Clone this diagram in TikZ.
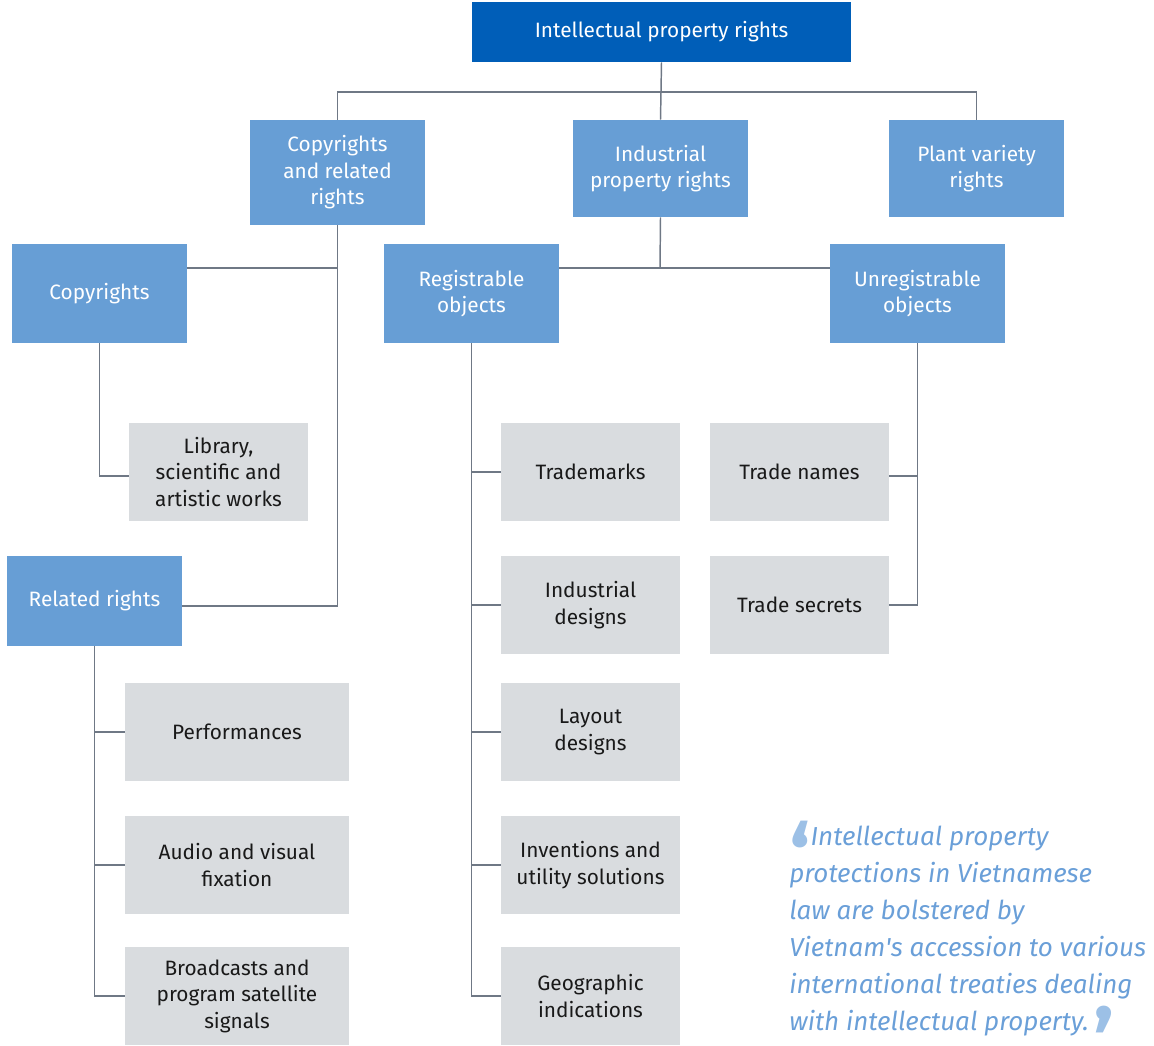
\documentclass[tikz,border=0pt]{standalone}
\usepackage{fontspec}
\setmainfont{Fira Sans}
\definecolor{darkblue}{HTML}{005EB8}
\definecolor{midblue}{HTML}{679ED5}
\definecolor{boxgray}{HTML}{D9DCDF}
\definecolor{linegray}{HTML}{6F7885}
\definecolor{quoteblue}{HTML}{6A9FD8}
\definecolor{markblue}{HTML}{9CC0E6}
\newcommand{\qmark}[1]{\smash{\textcolor{markblue}{\fontsize{66}{27.75}\selectfont\bfseries\upshape\raisebox{-0.49em}{#1}}}}
\begin{document}
\begin{tikzpicture}[
        x=0.75pt, y=-0.75pt,
        box/.style={rectangle, inner sep=2pt, align=center, font=\fontsize{15.6}{19.9}\selectfont},
        main/.style={box, fill=darkblue, text=white, minimum width=379*0.75pt, minimum height=60*0.75pt},
        cat/.style={box, fill=midblue, text=white, minimum width=175*0.75pt, minimum height=98*0.75pt},
        item/.style={box, fill=boxgray, text=black!90, minimum width=179*0.75pt, minimum height=98*0.75pt},
        wide/.style={item, minimum width=224*0.75pt},
        link/.style={draw=linegray, line width=1.1pt}
    ]
        \useasboundingbox (0,0) rectangle (1154,1046);

        % Top level
        \node[main] (ipr) at (661.5,32) {Intellectual property rights};

        % Second level
        \node[cat, minimum height=105*0.75pt] (copy) at (337.5,172.5) {Copyrights\\and related\\rights};
        \node[cat, minimum height=97*0.75pt] (indus) at (660.5,168.5) {Industrial\\property rights};
        \node[cat, minimum height=97*0.75pt] (plant) at (976.5,168.5) {Plant variety\\rights};

        % Third level
        \node[cat, minimum height=99*0.75pt] (copyr) at (99.5,293.5) {Copyrights};
        \node[cat, minimum height=99*0.75pt] (regis) at (471.5,293.5) {Registrable\\objects};
        \node[cat, minimum height=99*0.75pt] (unreg) at (917.5,293.5) {Unregistrable\\objects};
        \node[cat, minimum height=90*0.75pt] (related) at (94.5,601) {Related rights};

        % Copyrights and related rights
        \node[item] (library) at (218.5,472) {Library,\\scientific and\\artistic works};
        \node[wide] (perform) at (237,732) {Performances};
        \node[wide] (fixation) at (237,865) {Audio and visual\\fixation};
        \node[wide] (broadcast) at (237,996) {Broadcasts and\\program satellite\\signals};

        % Registrable objects
        \node[item] (trademark) at (590.5,472) {Trademarks};
        \node[item] (design) at (590.5,605) {Industrial\\designs};
        \node[item] (layout) at (590.5,732) {Layout\\designs};
        \node[item] (invent) at (590.5,865) {Inventions and\\utility solutions};
        \node[item] (geo) at (590.5,996) {Geographic\\indications};

        % Unregistrable objects
        \node[item] (tradename) at (799.5,472) {Trade names};
        \node[item] (secret) at (799.5,605) {Trade secrets};

        % Connessioni
        \coordinate (bus) at (661,92);
        \coordinate (cbus) at (337,268);
        \coordinate (ibus) at (660,268);
        \coordinate (ntick) at ([yshift=-4*0.75pt]tradename.east);
        \draw[link] (ipr.south) -- (bus);
        \draw[link] (copy.north) |- (bus) -| (plant.north);
        \draw[link] (bus) -- (indus.north);

        \draw[link] (copy.south) |- ([yshift=-5*0.75pt]related.east);
        \draw[link] (copyr.east |- cbus) -- (cbus);
        \draw[link] (indus.south) -- (ibus);
        \draw[link] (regis.east |- ibus) -- (unreg.west |- ibus);

        \draw[link] (copyr.south) |- ([yshift=-4*0.75pt]library.west);
        \draw[link] (related.south) |- (broadcast.west);
        \draw[link] (related.south |- perform.west) -- (perform.west);
        \draw[link] (related.south |- fixation.west) -- (fixation.west);

        \draw[link] (regis.south) |- (geo.west);
        \draw[link] (regis.south |- trademark.west) -- (trademark.west);
        \draw[link] (regis.south |- design.west) -- (design.west);
        \draw[link] (regis.south |- layout.west) -- (layout.west);
        \draw[link] (regis.south |- invent.west) -- (invent.west);

        \draw[link] (unreg.south) |- (secret.east);
        \draw[link] (unreg.south |- ntick) -- (ntick);

        % Quote
        \node[anchor=north west, inner sep=0pt, align=left, text=quoteblue,
              font=\fontsize{19.5}{27.75}\selectfont\itshape] (quote) at (789,826)
            {\qmark{‘}Intellectual property\\
             protections in Vietnamese\\
             law are bolstered by\\
             Vietnam\textquotesingle s accession to various\\
             international treaties dealing\\
             with intellectual property.\,\qmark{’}};
    \end{tikzpicture}
\end{document}
